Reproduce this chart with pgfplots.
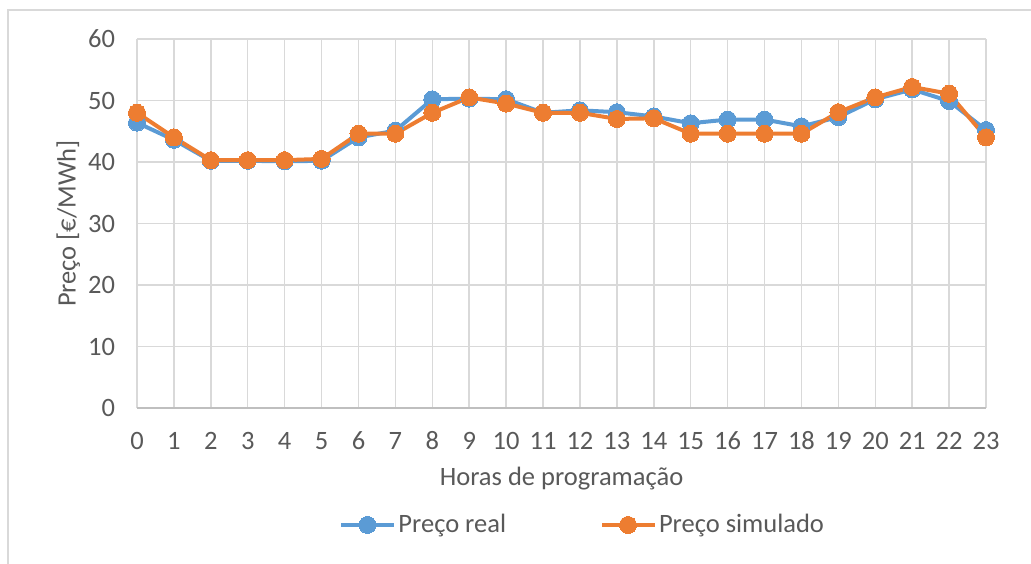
\documentclass[border=0pt]{standalone}
\usepackage{fontspec}
\setmainfont{Carlito}
\usepackage{pgfplots}
\pgfplotsset{compat=1.18}
\definecolor{cblue}{HTML}{5B9BD5}
\definecolor{corange}{HTML}{ED7D31}
\definecolor{txt}{HTML}{595959}
\definecolor{grd}{HTML}{D9D9D9}
\definecolor{axl}{HTML}{BFBFBF}
\newcommand{\ff}{\fontsize{26.5}{31}\selectfont}
\begin{document}
\ff
\begin{tikzpicture}[x=1pt,y=1pt]
\useasboundingbox (0,0) rectangle (1031,564);
\draw[grd, line width=1.5pt] (8,0) -- (8,554) -- (1031,554);
\begin{axis}[
 at={(137pt,156pt)}, anchor=south west,
 scale only axis, width=849pt, height=369pt,
 xmin=0, xmax=23, ymin=0, ymax=60,
 xtick={0,...,23}, ytick={0,10,...,60},
 grid=major, grid style={grd, line width=1.5pt},
 axis line style={draw=none},
 major tick length=0pt,
 clip=false,
 tick label style={text=txt, font=\ff},
 /pgf/number format/assume math mode=true,
 xticklabel style={anchor=north, text height=18pt, text depth=0pt, yshift=-14pt},
 yticklabel style={xshift=-13pt},
 xlabel={Horas de programação}, ylabel={Preço [€/MWh]},
 label style={text=txt, font=\ff},
 xlabel style={at={(axis description cs:0.5,0)}, anchor=north, yshift=-50pt},
 ylabel style={at={(axis description cs:0,0.5)}, anchor=south, xshift=0pt, yshift=48pt},
 legend style={at={(0.525,-0.317)}, anchor=center, draw=none, fill=none,
   legend columns=2, font=\ff, text=txt,
   /tikz/every even column/.append style={column sep=92pt}},
 legend image code/.code={\draw[mark repeat=2,mark phase=2] plot coordinates {(0pt,0pt) (26pt,0pt) (53pt,0pt)};},
]
\draw[axl, line width=1.5pt] (axis cs:0,0) -- (axis cs:23,0);
\addplot[cblue, line width=4pt, mark=*, mark size=8.5pt, mark options={fill=cblue, draw=cblue, line width=0pt}] coordinates {
(0,46.4) (1,43.6) (2,40.2) (3,40.2) (4,40.1) (5,40.2) (6,44.0) (7,45.1) (8,50.2) (9,50.3) (10,50.2) (11,48.0) (12,48.4) (13,48.1) (14,47.4) (15,46.3) (16,46.9) (17,46.9) (18,45.8) (19,47.3) (20,50.2) (21,51.8) (22,49.9) (23,45.2)
};
\addlegendentry{Preço real}
\addplot[corange, line width=4pt, mark=*, mark size=8.5pt, mark options={fill=corange, draw=corange, line width=0pt}] coordinates {
(0,48.0) (1,44.0) (2,40.3) (3,40.3) (4,40.3) (5,40.5) (6,44.6) (7,44.6) (8,48.0) (9,50.5) (10,49.5) (11,48.0) (12,48.0) (13,47.0) (14,47.1) (15,44.6) (16,44.6) (17,44.6) (18,44.6) (19,48.1) (20,50.5) (21,52.2) (22,51.1) (23,44.0)
};
\addlegendentry{Preço simulado}
\end{axis}
\end{tikzpicture}
\end{document}
